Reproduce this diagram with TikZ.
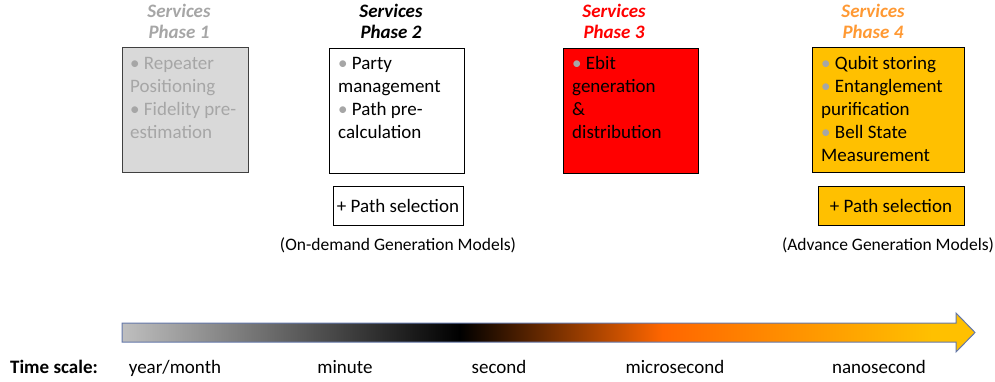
\documentclass[tikz,border=0pt]{standalone}
\usepackage{fontspec}
\setmainfont{Carlito}
\usetikzlibrary{positioning}

\definecolor{phasegray}{RGB}{166,166,166}
\definecolor{boxgray}{RGB}{217,217,217}
\definecolor{phaseorange}{RGB}{255,153,51}
\definecolor{ambergold}{RGB}{255,192,0}
\definecolor{deeporange}{RGB}{255,102,0}
\definecolor{scalegray}{RGB}{191,191,191}
\definecolor{arrowedge}{RGB}{100,120,170}

% gray -> black -> orange -> amber along the time axis
\pgfdeclarehorizontalshading{timeshade}{100bp}{color(0bp)=(scalegray); color(25bp)=(scalegray);
  color(44.8bp)=(black); color(56.7bp)=(deeporange); color(72.5bp)=(ambergold); color(100bp)=(ambergold)}

\newcommand{\bul}{{\color{phasegray}\textbullet}\ }

\begin{document}
\begin{tikzpicture}[x=1pt,y=-1pt,
      phasebox/.style={
         draw=black,
         rectangle,
         inner sep=0pt,
         anchor=north west,
         minimum height=125pt},
      boxtext/.style={
         align=left,
         anchor=base west,
         inner sep=0pt,
         font=\fontsize{19}{23}\selectfont},
      phasetitle/.style={
         align=center,
         anchor=base,
         inner sep=0pt,
         font=\fontsize{19}{21}\selectfont\bfseries\itshape},
      selbox/.style={
         draw=black,
         rectangle,
         inner sep=0pt,
         minimum height=39pt,
         font=\fontsize{19}{23}\selectfont},
      caption/.style={
         inner sep=0pt,
         font=\fontsize{17.5}{21}\selectfont},
      scalelabel/.style={
         anchor=base,
         inner sep=0pt,
         font=\fontsize{19}{23}\selectfont}
      ]
      \useasboundingbox (0,0) rectangle (995,382);

      % phase boxes
      \node[phasebox,fill=boxgray,draw=black!75,minimum width=126pt] (b1) at (122,47) {};
      \node[phasebox,fill=white,minimum width=135pt] (b2) at (329,48) {};
      \node[phasebox,fill=red,minimum width=135pt] (b3) at (563,48) {};
      \node[phasebox,fill=ambergold,minimum width=152pt] (b4) at (812,47) {};

      % (base = baseline of the last line)
      \node[boxtext,text=phasegray] (t1) at (130,139) {\bul Repeater\\Positioning\\\bul Fidelity pre-\\estimation};
      \node[boxtext] (t2) at (338,139) {\bul Party\\management\\\bul Path pre-\\calculation};
      \node[boxtext] (t3) at (572,139) {\bul Ebit\\generation\\\&\\distribution};
      \node[boxtext] (t4) at (821,162) {\bul Qubit storing\\\bul Entanglement\\purification\\\bul Bell State\\Measurement};

      % titles
      \node[phasetitle,text=phasegray] (s1) at (179,39) {Services\\Phase 1};
      \node[phasetitle] (s2) at (391,39) {Services\\Phase 2};
      \node[phasetitle,text=red] (s3) at (614,39) {Services\\Phase 3};
      \node[phasetitle,text=phaseorange] (s4) at (873,39) {Services\\Phase 4};

      % path selection + generation models
      \node[selbox,fill=white,minimum width=130pt] (ps2) at (398,205.5) {+ Path selection};
      \node[selbox,fill=ambergold,minimum width=146pt] (ps4) at (891,206) {+ Path selection};
      \node[caption,below=12pt of ps2] (c2) {(On-demand Generation Models)};
      \node[caption,below=12pt of ps4,xshift=-3pt] (c4) {(Advance Generation Models)};

      % time axis
      \shade[shading=timeshade,draw=arrowedge,line width=1pt]
         (122,323) -- (956,323) -- (956,313) -- (975,332.5) -- (956,352) -- (956,342) -- (122,342) -- cycle;

      \node[scalelabel,font=\fontsize{19}{23}\selectfont\bfseries] (ts) at (54,373) {Time scale:};
      \foreach \x/\n/\txt in {175/ym/{year/month}, 345/mi/minute, 499/se/second, 675/mu/microsecond, 879/na/nanosecond}
         \node[scalelabel] (\n) at (\x,373) {\txt};

    \end{tikzpicture}
\end{document}
